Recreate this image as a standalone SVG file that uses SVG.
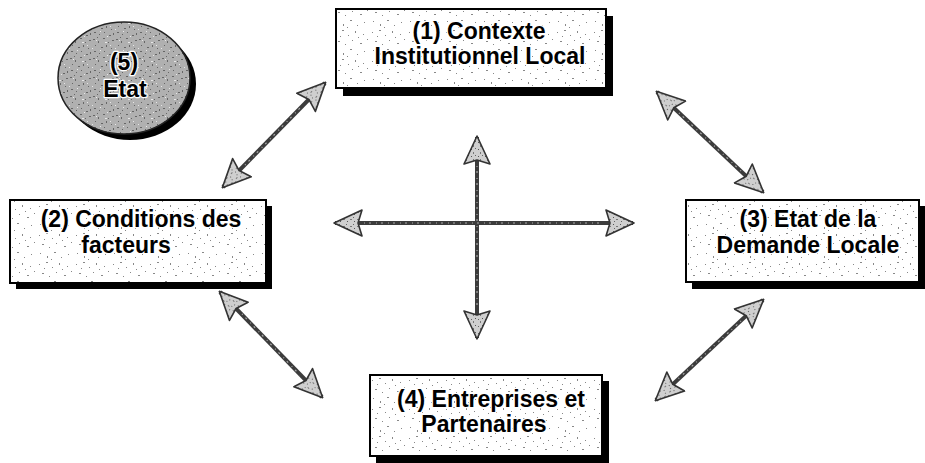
<svg xmlns="http://www.w3.org/2000/svg" width="925" height="463" viewBox="0 0 925 463">
<style>
.box{fill:url(#speck);stroke:#000;stroke-width:2}
.shadow{fill:#000}
.lbl{font-family:"Liberation Sans",Arial,sans-serif;font-weight:bold;font-size:23px;fill:#000;text-anchor:middle;stroke:#fff;stroke-width:2.5;paint-order:stroke;stroke-linejoin:round}
.conn{stroke:#3c3c3c;stroke-width:4;fill:none;marker-start:url(#ah);marker-end:url(#ah)}
.grain{stroke:#a8a8a8;stroke-width:1.2;fill:none;stroke-dasharray:1 4 2 5}
</style>
<defs>
<pattern id="speck" width="37" height="29" patternUnits="userSpaceOnUse">
<rect width="37" height="29" fill="#fff"/>
<g fill="#888">
<rect x="2" y="3" width="1" height="1"/><rect x="9" y="1" width="2" height="1"/><rect x="15" y="6" width="1" height="1"/>
<rect x="22" y="2" width="1" height="2"/><rect x="30" y="5" width="1" height="1"/><rect x="5" y="12" width="2" height="1"/>
<rect x="12" y="15" width="1" height="1"/><rect x="19" y="11" width="1" height="1"/><rect x="27" y="14" width="2" height="1"/>
<rect x="34" y="10" width="1" height="1"/><rect x="3" y="21" width="1" height="1"/><rect x="10" y="24" width="1" height="2"/>
<rect x="17" y="20" width="2" height="1"/><rect x="24" y="25" width="1" height="1"/><rect x="31" y="22" width="1" height="1"/>
<rect x="7" y="7" width="1" height="1"/><rect x="25" y="8" width="1" height="1"/><rect x="14" y="27" width="1" height="1"/>
</g>
</pattern>
<pattern id="speckDark" width="23" height="19" patternUnits="userSpaceOnUse">
<rect width="23" height="19" fill="#b0b0b0"/>
<g fill="#666">
<rect x="1" y="1" width="2" height="1"/><rect x="6" y="3" width="1" height="2"/><rect x="11" y="0" width="2" height="1"/>
<rect x="16" y="4" width="1" height="1"/><rect x="20" y="2" width="2" height="1"/><rect x="3" y="7" width="1" height="1"/>
<rect x="9" y="9" width="2" height="1"/><rect x="14" y="7" width="1" height="2"/><rect x="19" y="10" width="1" height="1"/>
<rect x="2" y="13" width="2" height="1"/><rect x="7" y="15" width="1" height="1"/><rect x="12" y="13" width="1" height="1"/>
<rect x="17" y="16" width="2" height="1"/><rect x="21" y="14" width="1" height="2"/><rect x="5" y="18" width="1" height="1"/>
</g>
<g fill="#e6e6e6">
<rect x="4" y="2" width="1" height="1"/><rect x="13" y="4" width="2" height="1"/><rect x="8" y="12" width="1" height="1"/>
<rect x="18" y="7" width="1" height="1"/><rect x="15" y="17" width="1" height="1"/><rect x="0" y="10" width="1" height="1"/>
</g>
</pattern>
<pattern id="speckHead" width="7" height="7" patternUnits="userSpaceOnUse">
<rect width="7" height="7" fill="#cfcfcf"/>
<rect x="1" y="1" width="1" height="1" fill="#555"/><rect x="4" y="3" width="2" height="1" fill="#777"/><rect x="2" y="5" width="1" height="1" fill="#666"/>
</pattern>
<marker id="ah" viewBox="0 0 30 28" refX="28" refY="14" markerWidth="30" markerHeight="28" markerUnits="userSpaceOnUse" orient="auto-start-reverse">
<path d="M1,1 L29,14 L1,27 L5,14 Z" fill="url(#speckHead)" stroke="#333" stroke-width="1.6" stroke-linejoin="round"/>
</marker>
</defs>

<g id="connectors">
<line class="conn" x1="223" y1="187" x2="325" y2="83"/>
<line class="conn" x1="220" y1="292" x2="322" y2="397"/>
<line class="conn" x1="657" y1="92" x2="763" y2="192"/>
<line class="conn" x1="763" y1="300" x2="656" y2="400"/>
<line class="conn" x1="335" y1="223" x2="633" y2="223"/>
<line class="conn" x1="477" y1="137" x2="477" y2="338"/>
<line class="grain" x1="245" y1="165" x2="303" y2="105"/>
<line class="grain" x1="242" y1="314" x2="300" y2="375"/>
<line class="grain" x1="679" y1="113" x2="741" y2="171"/>
<line class="grain" x1="741" y1="321" x2="678" y2="379"/>
<line class="grain" x1="364" y1="223" x2="604" y2="223"/>
<line class="grain" x1="477" y1="166" x2="477" y2="309"/>
</g>

<g id="node5">
<ellipse class="shadow" cx="130" cy="84" rx="66" ry="56"/>
<ellipse cx="124" cy="78" rx="66" ry="56" fill="url(#speckDark)" stroke="#222" stroke-width="1.5"/>
<text class="lbl" x="124" y="70" font-size="22">(5)</text>
<text class="lbl" x="125" y="97" font-size="22">Etat</text>
</g>

<g id="node1">
<rect class="shadow" x="343" y="16" width="270" height="80"/>
<rect class="box" x="336" y="9" width="270" height="79"/>
<text class="lbl" x="479" y="39">(1) Contexte</text>
<text class="lbl" x="480" y="64">Institutionnel Local</text>
</g>

<g id="node2">
<rect class="shadow" x="16" y="206" width="256" height="83"/>
<rect class="box" x="10" y="200" width="256" height="83"/>
<text class="lbl" x="141" y="227">(2) Conditions des</text>
<text class="lbl" x="126" y="253">facteurs</text>
</g>

<g id="node3">
<rect class="shadow" x="692" y="206" width="233" height="83"/>
<rect class="box" x="686" y="200" width="233" height="82"/>
<text class="lbl" x="808" y="227">(3) Etat de la</text>
<text class="lbl" x="808" y="253">Demande Locale</text>
</g>

<g id="node4">
<rect class="shadow" x="376" y="381" width="233" height="82"/>
<rect class="box" x="370" y="375" width="232" height="81"/>
<text class="lbl" x="491" y="407">(4) Entreprises et</text>
<text class="lbl" x="484" y="432">Partenaires</text>
</g>
</svg>
